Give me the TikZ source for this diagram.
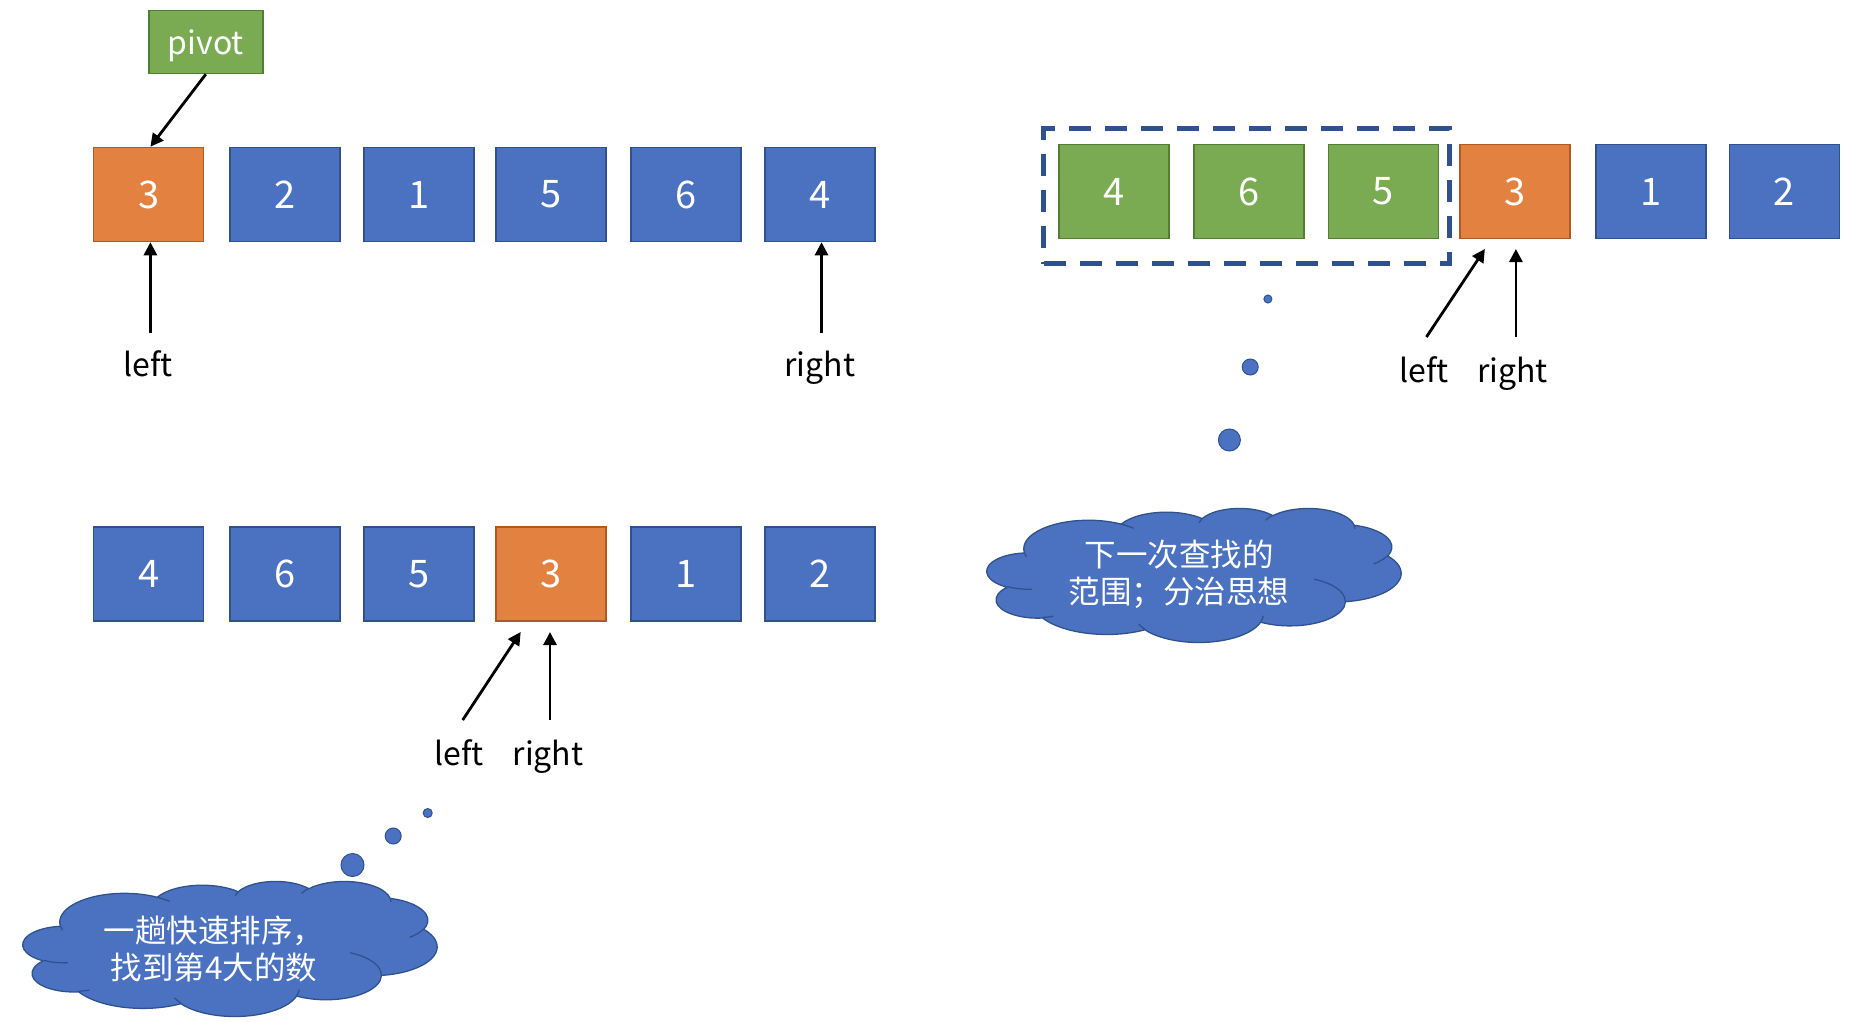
\documentclass[tikz,border=0pt]{standalone}
\usepackage{fontspec}
\setmainfont{Noto Sans CJK SC}
\usetikzlibrary{arrows.meta,calc}
\definecolor{bfill}{HTML}{4A72C0}
\definecolor{bdraw}{HTML}{2F528F}
\definecolor{ofill}{HTML}{E38140}
\definecolor{odraw}{HTML}{AE5A21}
\definecolor{gfill}{HTML}{7AAB53}
\definecolor{gdraw}{HTML}{507E32}
\tikzset{
  pptarc/.style n args={4}{insert path={arc[x radius=#1, y radius=#2,
     start angle={atan2(sin(#3)*#1,cos(#3)*#2)},
     delta angle={mod(atan2(sin(#3+#4)*#1,cos(#3+#4)*#2)-atan2(sin(#3)*#1,cos(#3)*#2)+720,360)}]}},
  cloudline/.style={draw=bdraw, line width=1.3pt, line join=round}
}
% PowerPoint-style cloud: top-left corner (#1,#2) in px, width #3, height #4
\newcommand\pptcloud[4]{%
  \pgfmathsetmacro\cloudsx{#3/432}%
  \pgfmathsetmacro\cloudsy{#4/432}%
  \begin{scope}[shift={(#1pt,-#2pt)}, x=\cloudsx pt, y=-\cloudsy pt]
    \path[cloudline, fill=bfill] (39,143.7)
      [pptarc={67.53}{91.90}{-190.487}{123.781}]
      [pptarc={53.33}{72.67}{-144.102}{89.945}]
      [pptarc={43.65}{59.45}{-145.808}{99.723}]
      [pptarc={48.57}{65.95}{-130.986}{117.242}]
      [pptarc={53.33}{72.73}{-78.709}{109.027}]
      [pptarc={67.75}{92.20}{-46.267}{130.269}]
      [pptarc={57.85}{78.67}{0.625}{114.033}]
      [pptarc={67.52}{92.15}{22.452}{115.173}]
      [pptarc={77.20}{105.43}{66.243}{75.711}]
      [pptarc={43.60}{59.18}{-274.942}{146.736}]
      [pptarc={43.45}{59.45}{-246.829}{152.519}] -- cycle;
    \path[cloudline]
      (46.93,261.77) [pptarc={43.45}{59.45}{86.742}{26.430}]
      (69.28,348.99) [pptarc={43.60}{59.18}{73.611}{11.447}]
      (164.78,390.90) [pptarc={67.52}{92.15}{137.624}{14.081}]
      (288.27,347.51) [pptarc={67.52}{92.15}{6.453}{15.998}]
      (341.29,229.54) [pptarc={57.85}{78.67}{-70.292}{70.917}]
      (417.98,153.54) [pptarc={53.33}{72.73}{30.318}{27.752}]
      (383.24,54.26) [pptarc={48.57}{65.95}{-13.744}{14.859}]
      (290.78,39.52) [pptarc={48.57}{65.95}{-149.181}{18.195}]
      (221.41,47.20) [pptarc={43.65}{59.45}{-163.494}{17.686}]
      (140.00,51.92) [pptarc={67.53}{91.90}{-66.707}{12.319}]
      (41.27,157.89) [pptarc={67.53}{91.90}{157.654}{11.858}];
  \end{scope}}
\begin{document}
\begin{tikzpicture}[x=1pt,y=-1pt,
  cell/.style={draw, line width=1.5pt, minimum width=110pt, minimum height=94pt, inner sep=0pt, text=white, font=\fontsize{38}{44}\selectfont},
  bcell/.style={cell, fill=bfill, draw=bdraw},
  ocell/.style={cell, fill=ofill, draw=odraw},
  gcell/.style={cell, fill=gfill, draw=gdraw},
  lbl/.style={font=\fontsize{32}{38}\selectfont, anchor=base, inner sep=0pt},
  arr/.style={-{Triangle[length=13pt,width=13pt]}, line width=2.8pt},
  dot/.style={circle, fill=bfill, draw=bdraw, line width=1pt, inner sep=0pt},
  cloudtext/.style={text=white, font=\fontsize{31.5}{37}\selectfont, align=center, inner sep=0pt},
  dashbox/.style={draw=bdraw, line width=4.5pt, dash pattern=on 22pt off 14pt, minimum width=406pt, minimum height=135pt, inner sep=0pt}
]
\useasboundingbox (0,0) rectangle (1866,1022);

% ---- top-left row ----
\node[gcell, minimum width=114pt, minimum height=63pt, font=\fontsize{32}{38}\selectfont, text depth=0pt] (pivot) at (205.8,42) {pivot};
\node[ocell] (a1) at (148.7,194.5) {3};
\node[bcell] (a2) at (285,194.5) {2};
\node[bcell] (a3) at (418.8,194.5) {1};
\node[bcell] (a4) at (551,194.5) {5};
\node[bcell] (a5) at (686,194.5) {6};
\node[bcell] (a6) at (819.8,194.5) {4};
\draw[arr] (pivot.south) -- ([xshift=1.7pt]a1.north);
\coordinate (aL) at (150.4,333);
\coordinate (aR) at (821.5,333);
\draw[arr] (aL) -- (aL |- a1.south);
\draw[arr] (aR) -- (aR |- a6.south);
\node[lbl] (aLt) at (148,376) {left};
\node[lbl] (aRt) at (819.7,376) {right};

% ---- bottom-left row ----
\node[bcell] (b1) at (148.7,574) {4};
\node[bcell] (b2) at (285,574) {6};
\node[bcell] (b3) at (418.8,574) {5};
\node[ocell] (b4) at (551,574) {3};
\node[bcell] (b5) at (686,574) {1};
\node[bcell] (b6) at (819.8,574) {2};
\coordinate (bLs) at (462.7,720);
\coordinate (bLe) at (520.7,632);
\coordinate (bRs) at (550,720);
\coordinate (bRe) at (550,632);
\draw[arr] (bLs) -- (bLe);
\draw[arr] (bRs) -- (bRe);
\node[lbl] (bLt) at (459,765) {left};
\node[lbl] (bRt) at (548,765) {right};
\node[dot, minimum size=9pt] (bd1) at (427.7,813) {};
\node[dot, minimum size=16pt] (bd2) at (393.2,836) {};
\node[dot, minimum size=23pt] (bd3) at (352.5,865) {};
\pptcloud{23}{881}{414}{135}
\node[cloudtext] (bcloudt) at (214,949) {一趟快速排序，\\找到第4大的数};

% ---- right row ----
\node[dashbox] (range) at (1246.7,196.2) {};
\node[gcell] (c1) at (1114,191.5) {4};
\node[gcell] (c2) at (1248.8,191.5) {6};
\node[gcell] (c3) at (1383.3,191.5) {5};
\node[ocell] (c4) at (1514.8,191.5) {3};
\node[bcell] (c5) at (1650.9,191.5) {1};
\node[bcell] (c6) at (1784.3,191.5) {2};
\coordinate (cLs) at (1426.4,337);
\coordinate (cLe) at (1484.9,249);
\coordinate (cRs) at (1515.9,337);
\coordinate (cRe) at (1515.9,249);
\draw[arr] (cLs) -- (cLe);
\draw[arr] (cRs) -- (cRe);
\node[lbl] (cLt) at (1424.2,382) {left};
\node[lbl] (cRt) at (1512.5,382) {right};
\node[dot, minimum size=8pt] (cd1) at (1267.9,299) {};
\node[dot, minimum size=16pt] (cd2) at (1250.2,367) {};
\node[dot, minimum size=22pt] (cd3) at (1229.4,440) {};
\pptcloud{987}{508}{414}{134}
\node[cloudtext] (ccloudt) at (1179,574) {下一次查找的\\范围；分治思想};
\end{tikzpicture}
\end{document}
